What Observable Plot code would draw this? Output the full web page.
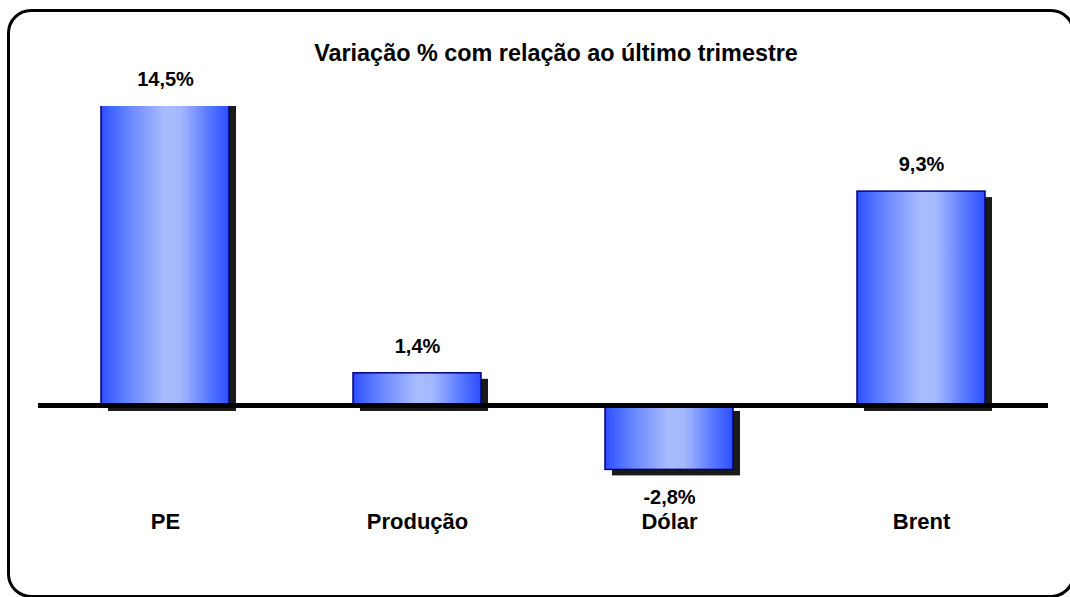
<!DOCTYPE html>
<html>
<head>
<meta charset="utf-8">
<script src="https://cdn.jsdelivr.net/npm/d3@7"></script>
<script src="https://cdn.jsdelivr.net/npm/@observablehq/plot@0.6"></script>
<style>
  html, body { margin: 0; padding: 0; background: #fff; }
  #wrap { position: relative; width: 1070px; height: 597px; overflow: hidden; font-family: "Liberation Sans", Arial, sans-serif; }
  #border { position: absolute; left: 7px; top: 9px; width: 1068px; height: 589px; box-sizing: border-box; border: 3px solid #000; border-radius: 24px; }
  #title { position: absolute; left: 0; width: 1112px; top: 41px; text-align: center; font-weight: bold; font-size: 23.4px; line-height: 24px; color: #000; }
  #chart { position: absolute; left: 0; top: 0; }
</style>
</head>
<body>
<div id="wrap">
  <div id="border"></div>
  <div id="chart"></div>
  <div id="title">Variação % com relação ao último trimestre</div>
</div>
<script>
const categories = ["PE", "Produção", "Dólar", "Brent"];
const values = [14.5, 1.4, -2.8, 9.3];
const valueLabels = ["14,5%", "1,4%", "-2,8%", "9,3%"];
const yDomain = [-4, 13];

const data = categories.map((c, i) => ({cat: c, value: values[i], label: valueLabels[i]}));
const shown = d => Math.max(Math.min(d.value, yDomain[1]), yDomain[0]);

const chart = Plot.plot({
  width: 1070,
  height: 597,
  marginLeft: 38,
  marginRight: 22,
  marginTop: 106,
  marginBottom: 100,
  style: {fontFamily: "'Liberation Sans', Arial, sans-serif", background: "transparent", overflow: "visible"},
  x: {domain: categories, paddingInner: 0.493, paddingOuter: 0.2465, axis: null},
  y: {domain: yDomain, axis: null},
  marks: [
    Plot.barY(data, {x: "cat", y: "value", fill: "#1a1a1a", dx: 7, dy: 6, clip: true}),
    Plot.barY(data, {x: "cat", y: "value", fill: "url(#barGrad)", stroke: "#000080", strokeWidth: 1.5, clip: true}),
    Plot.ruleY([0], {stroke: "#000", strokeWidth: 5}),
    Plot.text(data.filter(d => d.value >= 0), {x: "cat", y: shown, text: "label", dy: -27, fontSize: 20, fontWeight: "bold", fill: "#000"}),
    Plot.text(data.filter(d => d.value < 0), {x: "cat", y: shown, text: "label", dy: 28, fontSize: 20, fontWeight: "bold", fill: "#000"}),
    Plot.axisX({tickSize: 0, tickPadding: 16, fontSize: 22, fontWeight: "bold", fill: "#000", label: null})
  ]
});

const svg = d3.select(chart);
const defs = svg.insert("defs", ":first-child");
const grad = defs.append("linearGradient").attr("id", "barGrad")
  .attr("x1", 0).attr("x2", 1).attr("y1", 0).attr("y2", 0);
[[0, "#2c4cff"], [0.06, "#3d60ff"], [0.25, "#6f8cff"], [0.5, "#a9bdfd"], [0.62, "#a3b8fd"], [0.85, "#5676ff"], [0.95, "#3a5cff"], [1, "#2c4cff"]]
  .forEach(([o, c]) => grad.append("stop").attr("offset", o).attr("stop-color", c));

document.getElementById("chart").appendChild(chart);
</script>
</body>
</html>
